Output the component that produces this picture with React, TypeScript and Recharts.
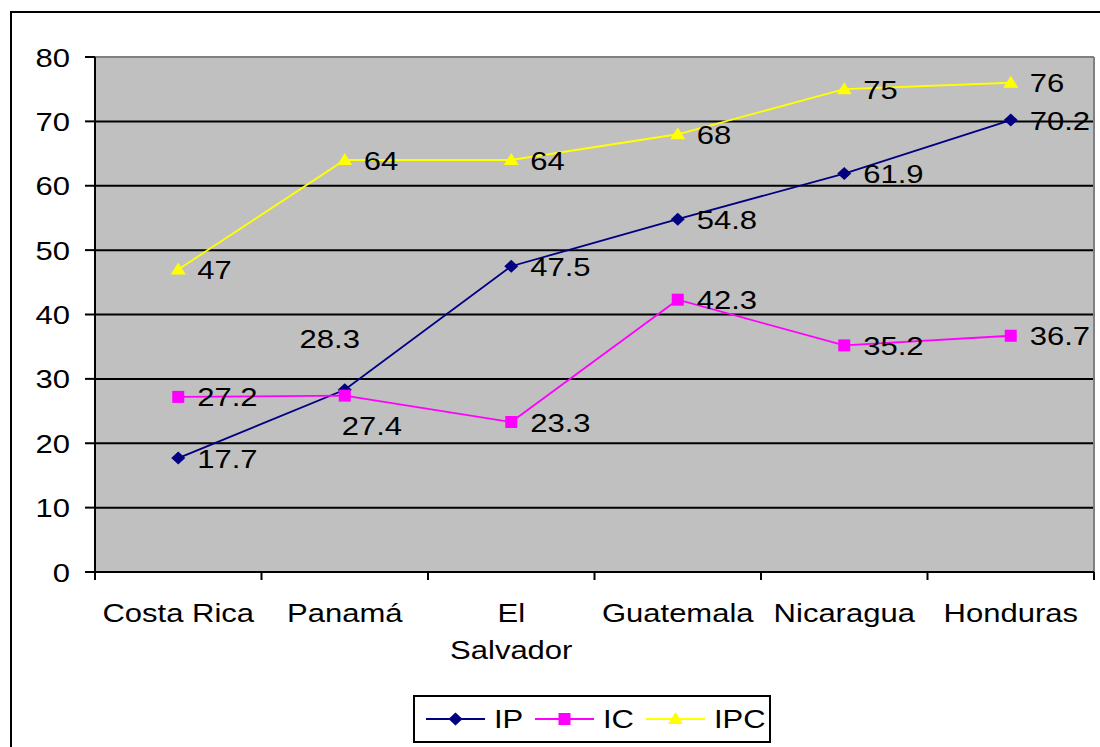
import React from 'react';
import { LineChart, Line, XAxis, YAxis, CartesianGrid, Legend } from 'recharts';

// chart values
const countries = ['Costa Rica', 'Panamá', 'El Salvador', 'Guatemala', 'Nicaragua', 'Honduras'];
const countryTickLabels = [['Costa Rica'], ['Panamá'], ['El', 'Salvador'], ['Guatemala'], ['Nicaragua'], ['Honduras']];
const ipValues = [17.7, 28.3, 47.5, 54.8, 61.9, 70.2];
const icValues = [27.2, 27.4, 23.3, 42.3, 35.2, 36.7];
const ipcValues = [47, 64, 64, 68, 75, 76];
const yTicks = [0, 10, 20, 30, 40, 50, 60, 70, 80];
const gridValues = [10, 20, 30, 40, 50, 60, 70];

const data = countries.map((country, i) => ({
    country,
    IP: ipValues[i],
    IC: icValues[i],
    IPC: ipcValues[i],
}));

const series = [
    { key: 'IP', color: '#000080', shape: 'diamond' },
    { key: 'IC', color: '#FF00FF', shape: 'square' },
    { key: 'IPC', color: '#FFFF00', shape: 'triangle' },
];

// layout
const W = 1100;
const H = 747;
const PLOT_LEFT = 95;
const PLOT_TOP = 57;
const PLOT_RIGHT = 1094;
const PLOT_BOTTOM = 572;
const Y_AXIS_W = 60;
const X_AXIS_H = 100;
const BAND = (PLOT_RIGHT - PLOT_LEFT) / countries.length;

const FONT = '"Liberation Sans", Arial, sans-serif';
const FONT_SIZE = 26.5;
const STRETCH = 1.17;

// labels that Excel moved off their default place
const labelShift: Record<string, Record<number, { dx: number; dy: number; anchor: string }>> = {
    IP: { 1: { dx: -15, dy: -51, anchor: 'middle' } },
    IC: { 1: { dx: -3, dy: 30, anchor: 'start' } },
};

const StretchText = ({ x, y, anchor, children }: any) => (
    <text
        transform={`translate(${x},${y}) scale(${STRETCH},1)`}
        textAnchor={anchor}
        fontSize={FONT_SIZE}
        fontFamily={FONT}
        fill="#000"
    >
        {children}
    </text>
);

const Marker = ({ shape, cx, cy, color }: any) => {
    if (shape === 'diamond') {
        return (
            <polygon
                points={`${cx},${cy - 6.5} ${cx + 7},${cy} ${cx},${cy + 6.5} ${cx - 7},${cy}`}
                fill={color}
            />
        );
    }
    if (shape === 'square') {
        return <rect x={cx - 6} y={cy - 6} width={12} height={12} fill={color} />;
    }
    return (
        <polygon
            points={`${cx},${cy - 7} ${cx + 7.5},${cy + 5} ${cx - 7.5},${cy + 5}`}
            fill={color}
        />
    );
};

const makeDot = (shape: string, color: string) => (props: any) => {
    const { cx, cy, index } = props;
    if (cx == null || cy == null) return <g key={`dot-${shape}-${index}`} />;
    return (
        <g key={`dot-${shape}-${index}`}>
            <Marker shape={shape} cx={cx} cy={cy} color={color} />
        </g>
    );
};

const makeLabel = (key: string) => (props: any) => {
    const { index, value } = props;
    const px = props.viewBox?.x ?? props.x;
    const py = props.viewBox?.y ?? props.y;
    const shift = labelShift[key]?.[index] ?? { dx: 19, dy: 0, anchor: 'start' };
    return (
        <g key={`label-${key}-${index}`}>
            <StretchText x={px + shift.dx} y={py + shift.dy + FONT_SIZE * 0.36} anchor={shift.anchor}>
                {value}
            </StretchText>
        </g>
    );
};

const YTick = ({ x, y, payload }: any) => (
    <StretchText x={x} y={y + FONT_SIZE * 0.36} anchor="end">
        {payload.value}
    </StretchText>
);

const XTick = ({ x, y, index }: any) => {
    const lines = countryTickLabels[index] ?? [];
    const half = BAND / 2;
    return (
        <g>
            <line x1={x - half} y1={y} x2={x - half} y2={y + 8} stroke="#000" strokeWidth={2} />
            {index === countries.length - 1 && (
                <line x1={x + half} y1={y} x2={x + half} y2={y + 8} stroke="#000" strokeWidth={2} />
            )}
            {lines.map((line, i) => (
                <StretchText key={i} x={x} y={y + 50 + i * 37} anchor="middle">
                    {line}
                </StretchText>
            ))}
        </g>
    );
};

const LegendBox = () => (
    <div
        style={{
            display: 'flex',
            alignItems: 'center',
            boxSizing: 'border-box',
            width: 358,
            height: 48,
            border: '2px solid #000',
            background: '#fff',
            paddingLeft: 11,
            fontFamily: FONT,
            fontSize: FONT_SIZE,
            color: '#000',
        }}
    >
        {series.map((s) => (
            <div key={s.key} style={{ display: 'flex', alignItems: 'center', marginRight: 12 }}>
                <svg width={59} height={20} style={{ marginRight: 9 }}>
                    <line x1={0} y1={10} x2={59} y2={10} stroke={s.color} strokeWidth={2} />
                    <Marker shape={s.shape} cx={29.5} cy={10} color={s.color} />
                </svg>
                <span
                    style={{
                        display: 'inline-block',
                        transform: `scaleX(${STRETCH})`,
                        transformOrigin: 'left center',
                        marginRight: 4,
                    }}
                >
                    {s.key}
                </span>
            </div>
        ))}
    </div>
);

export default function App() {
    return (
        <div style={{ position: 'absolute', left: 0, top: 0, width: W, height: H, background: '#fff', overflow: 'hidden' }}>
            <div
                style={{
                    position: 'absolute',
                    left: 10,
                    top: 11,
                    width: W,
                    height: H,
                    border: '2px solid #000',
                }}
            />
            <LineChart
                width={W}
                height={H}
                data={data}
                margin={{
                    top: PLOT_TOP,
                    right: W - PLOT_RIGHT,
                    left: PLOT_LEFT - Y_AXIS_W,
                    bottom: H - PLOT_BOTTOM - X_AXIS_H,
                }}
                style={{ position: 'absolute', left: 0, top: 0 }}
            >
                <CartesianGrid
                    vertical={false}
                    fill="#C0C0C0"
                    fillOpacity={1}
                    stroke="#000"
                    strokeWidth={2}
                    horizontalValues={gridValues}
                />
                <CartesianGrid
                    horizontalPoints={[PLOT_TOP]}
                    verticalPoints={[PLOT_RIGHT]}
                    stroke="#808080"
                    strokeWidth={2}
                />
                <XAxis
                    dataKey="country"
                    height={X_AXIS_H}
                    padding={{ left: BAND / 2, right: BAND / 2 }}
                    interval={0}
                    tickLine={false}
                    tickSize={0}
                    tickMargin={0}
                    axisLine={{ stroke: '#000', strokeWidth: 2 }}
                    tick={<XTick />}
                />
                <YAxis
                    width={Y_AXIS_W}
                    domain={[0, 80]}
                    ticks={yTicks}
                    interval={0}
                    tickSize={10}
                    tickMargin={15}
                    tickLine={{ stroke: '#000', strokeWidth: 2 }}
                    axisLine={{ stroke: '#000', strokeWidth: 2 }}
                    tick={<YTick />}
                />
                <Legend
                    layout="horizontal"
                    verticalAlign="middle"
                    align="center"
                    content={<LegendBox />}
                    wrapperStyle={{ left: 413, top: 695, width: 358, height: 48 }}
                />
                {series.map((s) => (
                    <Line
                        key={s.key}
                        type="linear"
                        dataKey={s.key}
                        stroke={s.color}
                        strokeWidth={1.8}
                        dot={makeDot(s.shape, s.color)}
                        activeDot={false}
                        label={makeLabel(s.key)}
                        isAnimationActive={false}
                    />
                ))}
            </LineChart>
        </div>
    );
}
